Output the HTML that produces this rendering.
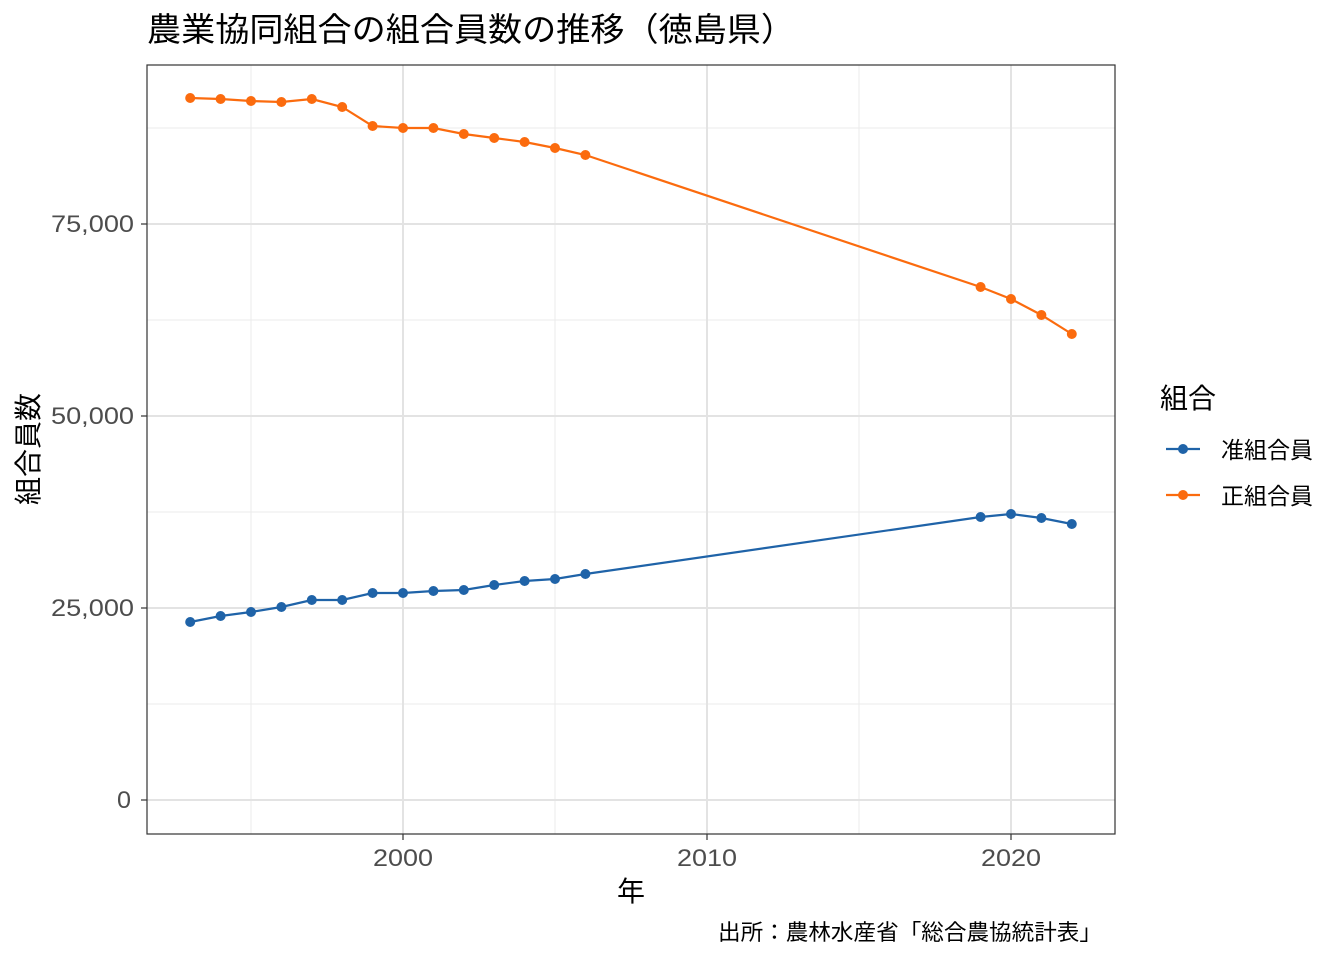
<!DOCTYPE html>
<html><head><meta charset="utf-8"><style>
body{margin:0;background:#fff}
text{font-family:"Liberation Sans","Noto Sans CJK JP",sans-serif}
</style></head><body>
<svg width="1344" height="960" viewBox="0 0 1344 960" xmlns="http://www.w3.org/2000/svg">
<rect width="1344" height="960" fill="#fff"/>
<text x="147" y="41" font-size="33" fill="#000" textLength="648" lengthAdjust="spacingAndGlyphs">農業協同組合の組合員数の推移（徳島県）</text>
<g stroke="#ebebeb" stroke-width="1">
<line x1="147" x2="1115" y1="704" y2="704"/><line x1="147" x2="1115" y1="512" y2="512"/>
<line x1="147" x2="1115" y1="320" y2="320"/><line x1="147" x2="1115" y1="128" y2="128"/>
<line y1="65" y2="834" x1="251" x2="251"/><line y1="65" y2="834" x1="555" x2="555"/><line y1="65" y2="834" x1="859" x2="859"/>
</g>
<g stroke="#e3e3e3" stroke-width="2">
<line x1="147" x2="1115" y1="800" y2="800"/><line x1="147" x2="1115" y1="608" y2="608"/>
<line x1="147" x2="1115" y1="416" y2="416"/><line x1="147" x2="1115" y1="224" y2="224"/>
<line y1="65" y2="834" x1="403" x2="403"/><line y1="65" y2="834" x1="707" x2="707"/><line y1="65" y2="834" x1="1011" x2="1011"/>
</g>
<rect x="147" y="65" width="968" height="769" fill="none" stroke="#333" stroke-width="1.2"/>
<g stroke="#333" stroke-width="1.2">
<line x1="141" x2="147" y1="800" y2="800"/><line x1="141" x2="147" y1="608" y2="608"/><line x1="141" x2="147" y1="416" y2="416"/><line x1="141" x2="147" y1="224" y2="224"/>
<line y1="834" y2="840" x1="403" x2="403"/><line y1="834" y2="840" x1="707" x2="707"/><line y1="834" y2="840" x1="1011" x2="1011"/>
</g>
<g font-size="24" fill="#4d4d4d">
<text x="117" y="808" textLength="14" lengthAdjust="spacingAndGlyphs">0</text>
<text x="51" y="616" textLength="83" lengthAdjust="spacingAndGlyphs">25,000</text>
<text x="51" y="424" textLength="83" lengthAdjust="spacingAndGlyphs">50,000</text>
<text x="51" y="232" textLength="83" lengthAdjust="spacingAndGlyphs">75,000</text>
</g>
<g font-size="24" fill="#4d4d4d">
<text x="373" y="866" textLength="60" lengthAdjust="spacingAndGlyphs">2000</text>
<text x="677" y="866" textLength="60" lengthAdjust="spacingAndGlyphs">2010</text>
<text x="981" y="866" textLength="60" lengthAdjust="spacingAndGlyphs">2020</text>
</g>
<text x="631" y="901" font-size="28" text-anchor="middle">年</text>
<text transform="translate(38,449) rotate(-90)" font-size="28" text-anchor="middle">組合員数</text>
<text x="718" y="940" font-size="22" textLength="384" lengthAdjust="spacingAndGlyphs">出所：農林水産省「総合農協統計表」</text>
<polyline fill="none" stroke="#1f63a8" stroke-width="2.2" points="190.2,622 220.6,616 251,612 281.4,607 311.8,600 342.2,600 372.6,593 403,593 433.4,591 463.8,590 494.2,585 524.6,581 555,579 585.4,574 980.6,517 1011,514 1041.4,518 1071.8,524"/>
<polyline fill="none" stroke="#fb6b0e" stroke-width="2.2" points="190.2,98 220.6,99 251,101 281.4,102 311.8,99 342.2,107 372.6,126 403,128 433.4,128 463.8,134 494.2,138 524.6,142 555,148 585.4,155 980.6,287 1011,299 1041.4,315 1071.8,334"/>
<g fill="#1f63a8">
<circle cx="190.2" cy="622" r="5"/><circle cx="220.6" cy="616" r="5"/><circle cx="251" cy="612" r="5"/><circle cx="281.4" cy="607" r="5"/><circle cx="311.8" cy="600" r="5"/><circle cx="342.2" cy="600" r="5"/><circle cx="372.6" cy="593" r="5"/><circle cx="403" cy="593" r="5"/><circle cx="433.4" cy="591" r="5"/><circle cx="463.8" cy="590" r="5"/><circle cx="494.2" cy="585" r="5"/><circle cx="524.6" cy="581" r="5"/><circle cx="555" cy="579" r="5"/><circle cx="585.4" cy="574" r="5"/><circle cx="980.6" cy="517" r="5"/><circle cx="1011" cy="514" r="5"/><circle cx="1041.4" cy="518" r="5"/><circle cx="1071.8" cy="524" r="5"/>
</g>
<g fill="#fb6b0e">
<circle cx="190.2" cy="98" r="5"/><circle cx="220.6" cy="99" r="5"/><circle cx="251" cy="101" r="5"/><circle cx="281.4" cy="102" r="5"/><circle cx="311.8" cy="99" r="5"/><circle cx="342.2" cy="107" r="5"/><circle cx="372.6" cy="126" r="5"/><circle cx="403" cy="128" r="5"/><circle cx="433.4" cy="128" r="5"/><circle cx="463.8" cy="134" r="5"/><circle cx="494.2" cy="138" r="5"/><circle cx="524.6" cy="142" r="5"/><circle cx="555" cy="148" r="5"/><circle cx="585.4" cy="155" r="5"/><circle cx="980.6" cy="287" r="5"/><circle cx="1011" cy="299" r="5"/><circle cx="1041.4" cy="315" r="5"/><circle cx="1071.8" cy="334" r="5"/>
</g>
<text x="1160" y="408" font-size="28">組合</text>
<line x1="1166" x2="1200" y1="449" y2="449" stroke="#1f63a8" stroke-width="2.2"/><circle cx="1183" cy="449" r="5" fill="#1f63a8"/>
<line x1="1166" x2="1200" y1="495" y2="495" stroke="#fb6b0e" stroke-width="2.2"/><circle cx="1183" cy="495" r="5" fill="#fb6b0e"/>
<text x="1221" y="458" font-size="23">准組合員</text>
<text x="1221" y="504" font-size="23">正組合員</text>
</svg>
</body></html>
